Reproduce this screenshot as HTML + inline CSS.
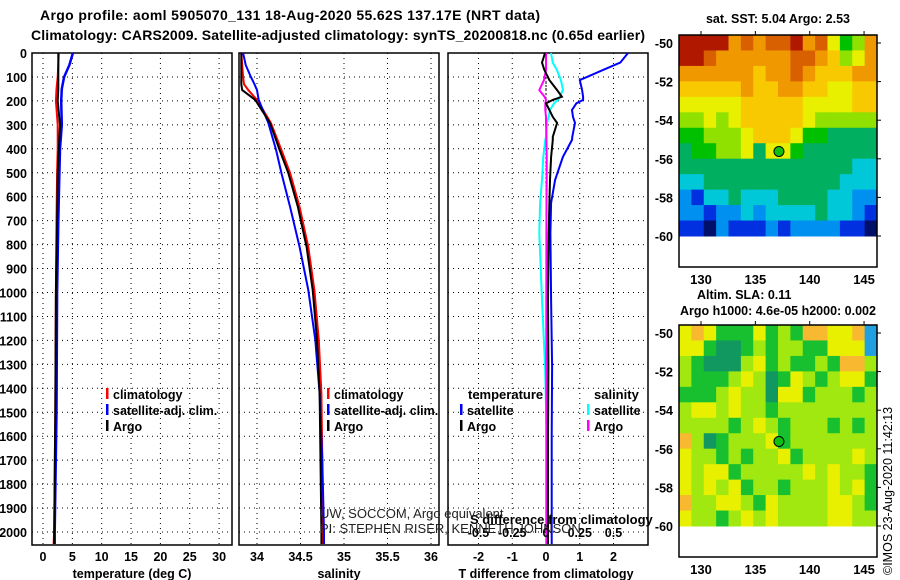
<!DOCTYPE html>
<html><head><meta charset="utf-8"><style>
html,body{margin:0;padding:0;background:#fff;}
svg{display:block;font-family:"Liberation Sans",sans-serif;}
.b{font-weight:bold;font-size:12.5px;}
</style></head><body>
<svg id="c" width="900" height="580" viewBox="0 0 900 580">
<text x="290" y="20" text-anchor="middle" class="b" style="font-size:14px" textLength="500">Argo profile: aoml 5905070_131 18-Aug-2020 55.62S 137.17E (NRT data)</text>
<text x="338" y="40" text-anchor="middle" class="b" style="font-size:14px" textLength="614">Climatology: CARS2009. Satellite-adjusted climatology: synTS_20200818.nc (0.65d earlier)</text>
<g id="g"></g>
</svg>
<script>
// ---- profile data ----
const depthT = [0,50,100,150,200,300,400,500,700,1000,1500,2000,2050];
const tempArgo = [2.6,2.6,2.6,2.6,2.5,2.9,2.7,2.5,2.4,2.2,2.1,1.9,1.9];
const tempClim = [2.7,2.6,2.5,2.3,2.2,2.5,2.5,2.4,2.3,2.2,2.1,1.9,1.8];
const tempSat = [5.1,4.5,3.6,3.2,3.1,3.2,2.9,2.8,2.6,2.4,2.3,2.0,2.0];
const depthS = [0,50,100,130,155,196,292,405,501,643,810,990,1198,1420,1700,2000,2050];
const salArgo = [33.82,33.82,33.82,33.82,33.83,33.98,34.15,34.26,34.36,34.47,34.57,34.64,34.69,34.72,34.73,34.74,34.74];
const salClim = [33.82,33.83,33.84,33.85,33.9,34.0,34.16,34.28,34.38,34.49,34.59,34.66,34.71,34.74,34.75,34.76,34.76];
const salSat = [33.84,33.87,33.93,33.97,34.0,34.02,34.13,34.22,34.28,34.38,34.49,34.59,34.67,34.72,34.75,34.77,34.77];
const depthD = [0,40,70,113,155,183,196,210,238,267,292,350,363,434,530,626,752,1031,1310,1600,1866,2050];
const dTsat = [2.43,2.2,1.7,1.0,1.07,1.1,1.1,0.9,0.77,0.8,0.86,0.78,0.77,0.5,0.27,0.15,0.13,0.15,0.18,0.17,0.17,0.17];
const dTargo = [-0.03,-0.12,-0.05,0.1,0.33,0.47,0.2,0.0,0.1,0.2,0.33,0.2,0.2,0.15,0.12,0.1,0.08,0.06,0.07,0.06,0.06,0.06];
const dSsat = [0.037,0.05,0.08,0.11,0.126,0.1,0.09,0.06,0.03,0.02,0.007,0.0,-0.005,-0.02,-0.03,-0.044,-0.05,-0.03,-0.007,0.005,0.015,0.01];
const dSargo = [0,0,0,-0.015,-0.05,-0.01,0,-0.005,-0.005,0,0,0.003,0.003,0.005,0.005,0.004,0.003,0.002,0.002,0.002,0.002,0.002];
const depthTicks = [0,100,200,300,400,500,600,700,800,900,1000,1100,1200,1300,1400,1500,1600,1700,1800,1900,2000];
const tempTicks = [0,5,10,15,20,25,30];
const salTicks = [34,34.5,35,35.5,36];
const dTTicks = [-2,-1,0,1,2];
const dSTicks = [-0.5,-0.25,0,0.25,0.5];
const latTicks = [-50,-52,-54,-56,-58,-60];
const lonTicks = [130,135,140,145];
const sstGrid = ["bbbb9a9aab9a7569","bba999999aa98679","999999899a988899","8888898899887788","7777788888777788","6676788888766666","5566678887554444","4556674775444444","4444444444444433","3344444444444333","2133433344443322","2212232333343321","1102111212222110"];
const slaGrid = ["3431113121443345","3310012122113335","2100023121121442","2111232013212331","1112322033122212","2332322122222222","2222123212221212","4201222312222222","3221212231222232","3233122222323221","3232312212223231","4223321322223321","3221232322223322"];
const argoLon = 137.17, argoLat = -55.62;

const NS="http://www.w3.org/2000/svg", G=document.getElementById('g');
function el(t,a,p){const e=document.createElementNS(NS,t);for(const k in a)e.setAttribute(k,a[k]);(p||G).appendChild(e);return e;}
const yD = d => 53 + d*0.2395;
const panels = [
 {x0:32,x1:232,fx:v=>43+v*5.87,ticks:tempTicks,title:"temperature (deg C)",tx:132,name:"temperature"},
 {x0:239,x1:439,fx:v=>257+(v-34)*87,ticks:salTicks,title:"salinity",tx:339,name:"salinity"},
 {x0:448,x1:648,fx:v=>546+v*33.75,ticks:dTTicks,title:"T difference from climatology",tx:546,name:"tdiff"}
];
panels.forEach((p,i)=>{
  depthTicks.forEach(d=>{
    const l=el('line',{x1:p.x0,x2:p.x1,y1:yD(d),y2:yD(d),stroke:'#000','stroke-dasharray':'1,4'});
    
    
    if(i===0){const t=el('text',{x:27,y:yD(d)+5,'text-anchor':'end',class:'b'});t.textContent=d;
      
      }
  });
  p.ticks.forEach(v=>{
    const x=p.fx(v);
    const l=el('line',{x1:x,x2:x,y1:53,y2:545,stroke:'#000','stroke-dasharray':'1,4'});
    
    
    const t=el('text',{x:x,y:561,'text-anchor':'middle',class:'b'});t.textContent=v;
    
    
  });
  const r=el('rect',{x:p.x0,y:53,width:p.x1-p.x0,height:492,fill:'none',stroke:'#000','stroke-width':1.5});
  
  
  const tt=el('text',{x:p.tx,y:578,'text-anchor':'middle',class:'b'});tt.textContent=p.title;
  
  
});
// zero line in diff panel
const z=el('line',{x1:546,x2:546,y1:53,y2:545,stroke:'#000','stroke-dasharray':'2,2'});


function prof(depths,vals,fx,color,w,name){
  const pts=depths.map((d,i)=>fx(vals[i]).toFixed(1)+','+yD(d).toFixed(1)).join(' ');
  const l=el('polyline',{points:pts,fill:'none',stroke:color,'stroke-width':w});
  
  
}
prof(depthT,tempClim,panels[0].fx,'#f00',2,'temp-climatology-line');
prof(depthT,tempSat,panels[0].fx,'#00f',2.5,'temp-satellite-line');
prof(depthT,tempArgo,panels[0].fx,'#000',2,'temp-argo-line');
prof(depthS,salClim,panels[1].fx,'#f00',2,'sal-climatology-line');
prof(depthS,salSat,panels[1].fx,'#00f',2,'sal-satellite-line');
prof(depthS,salArgo,panels[1].fx,'#000',2,'sal-argo-line');
const fS=v=>546+v*135;
prof(depthD,dSsat,fS,'#0ff',2,'sdiff-satellite-line');
prof(depthD,dSargo,fS,'#f0f',2,'sdiff-argo-line');
prof(depthD,dTsat,panels[2].fx,'#00f',2,'tdiff-satellite-line');
prof(depthD,dTargo,panels[2].fx,'#000',2,'tdiff-argo-line');
// S diff ticks
dSTicks.forEach(v=>{const t=el('text',{x:fS(v),y:537,'text-anchor':'middle',class:'b'});t.textContent=v;
  
  });
// legends
function leg(x,y,color,label,name){
  const r=el('rect',{x:x,y:y-11,width:2.5,height:11,fill:color});
  
  
  const t=el('text',{x:x+7,y:y,class:'b'});t.textContent=label;
  
  
}
leg(106,399,'#f00','climatology','legend-climatology');
leg(106,415,'#00f','satellite-adj. clim.','legend-satellite');
leg(106,431,'#000','Argo','legend-argo');
leg(327,399,'#f00','climatology','legend2-climatology');
leg(327,415,'#00f','satellite-adj. clim.','legend2-satellite');
leg(327,431,'#000','Argo','legend2-argo');
leg(460,415,'#00f','satellite','legend3-t-satellite');
leg(460,431,'#000','Argo','legend3-t-argo');
leg(587,415,'#0ff','satellite','legend3-s-satellite');
leg(587,431,'#f0f','Argo','legend3-s-argo');
[[468,399,'temperature'],[594,399,'salinity'],[470,524,'S difference from climatology']].forEach(a=>{
  const t=el('text',{x:a[0],y:a[1],class:'b',style:'font-size:13px'});t.textContent=a[2];
  
  });
[[320,518,'UW, SOCCOM, Argo equivalent'],[320,533,'PI: STEPHEN RISER, KENNETH JOHNSON']].forEach(a=>{
  const t=el('text',{x:a[0],y:a[1],style:'font-size:13px',fill:'#222'});t.textContent=a[2];
  
  });
// ---- maps ----
const sstCol={'0':'#00106a','1':'#0030e0','2':'#0090f0','3':'#00c8d8','4':'#00b060','5':'#00c000','6':'#90e000','7':'#e8f000','8':'#f8c800','9':'#f09800','a':'#d86000','b':'#b01800'};
const slaCol={'0':'#109860','1':'#18c030','2':'#a0e810','3':'#e8f000','4':'#f8b830','5':'#20a0e0'};
const mx0=679,mx1=877;
const fLon=v=>701+(v-130)*10.87;
function drawMap(top,bottom,grid,cols,name,title,titleY){
  const yL=v=>top+8+(-50-v)*19.3;
  const gy0=top, gy1=yL(-60);
  const nr=grid.length, nc=grid[0].length, cw=(mx1-mx0)/nc, ch=(gy1-gy0)/nr;
  grid.forEach((row,r)=>{for(let c=0;c<nc;c++){
    const cell=el('rect',{x:mx0+c*cw,y:gy0+r*ch,width:cw+0.5,height:ch+0.5,fill:cols[row[c]]});
    
    
  }});
  const f=el('rect',{x:mx0,y:top,width:mx1-mx0,height:bottom-top,fill:'none',stroke:'#000','stroke-width':1.5});
  
  
  latTicks.forEach(v=>{
    const t=el('text',{x:673,y:yL(v)+5,'text-anchor':'end',class:'b'});t.textContent=v;
    
    
    const tk=el('line',{x1:mx1,x2:mx1+4,y1:yL(v),y2:yL(v),stroke:'#000'});
    
    
  });
  lonTicks.forEach(v=>{
    const t=el('text',{x:fLon(v),y:bottom+17,'text-anchor':'middle',class:'b',style:'font-size:13px'});t.textContent=v;
    
    
    const tk=el('line',{x1:fLon(v),x2:fLon(v),y1:top-4,y2:top,stroke:'#000'});
    
    
  });
  const m=el('circle',{cx:fLon(argoLon),cy:yL(argoLat),r:5,fill:'#10c010',stroke:'#000'});
  
  
  const t=el('text',{x:778,y:titleY,'text-anchor':'middle',class:'b'});t.textContent=title;
  
  
}
drawMap(35,267,sstGrid,sstCol,'sst-map','sat. SST: 5.04 Argo: 2.53',23);
drawMap(325,557,slaGrid,slaCol,'sla-map','Argo h1000: 4.6e-05 h2000: 0.002',315);
const a=el('text',{x:697,y:299,class:'b'});a.textContent='Altim. SLA: 0.11';


const cr=el('text',{x:0,y:0,transform:'translate(892,575) rotate(-90)',style:'font-size:12.5px'});cr.textContent='©IMOS 23-Aug-2020 11:42:13';


</script>
</body></html>
